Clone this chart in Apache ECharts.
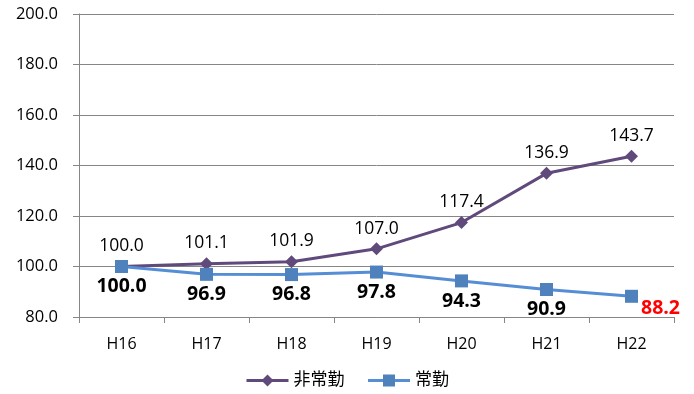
<!DOCTYPE html>
<html><head><meta charset="utf-8">
<script src="https://cdn.jsdelivr.net/npm/echarts@6/dist/echarts.min.js"></script>
<style>html,body{margin:0;padding:0;background:#fff}#c{width:694px;height:394px}</style>
</head><body><div id="c"></div>
<script>
var categories = ['H16','H17','H18','H19','H20','H21','H22'];
var partTime = [100.0,101.1,101.9,107.0,117.4,136.9,143.7];
var fullTime = [100.0,96.9,96.8,97.8,94.3,90.9,88.2];
var seriesNames = ['非常勤','常勤'];
var yMin = 80, yMax = 200, yStep = 20;

var font = '"Open Sans","Noto Sans CJK JP",sans-serif';
var chart = echarts.init(document.getElementById('c'));
chart.setOption({
  animation: false,
  grid: {left: 79, right: 20, top: 14, bottom: 77},
  legend: {
    bottom: 0, left: 'center', itemWidth: 42, itemHeight: 15, itemGap: 22,
    lineStyle: {width: 3},
    textStyle: {fontFamily: font, fontSize: 17, color: '#000'},
    data: seriesNames
  },
  xAxis: {
    type: 'category', data: categories, boundaryGap: true,
    axisLine: {lineStyle: {color: '#868686', width: 1}},
    axisTick: {show: true, length: 6, lineStyle: {color: '#868686'}},
    axisLabel: {margin: 19, fontFamily: font, fontSize: 16, color: '#000'}
  },
  yAxis: {
    type: 'value', min: yMin, max: yMax, interval: yStep,
    axisLine: {show: true, lineStyle: {color: '#868686'}},
    axisTick: {show: true, length: 6, lineStyle: {color: '#868686'}},
    splitLine: {lineStyle: {color: '#868686', width: 1}},
    axisLabel: {margin: 21, fontFamily: font, fontSize: 16.5, color: '#000',
      formatter: function(v){return v.toFixed(1);}}
  },
  series: [
    {
      name: seriesNames[0], type: 'line', data: partTime,
      symbol: 'diamond', symbolSize: 13,
      lineStyle: {color: '#604A7B', width: 3},
      itemStyle: {color: '#604A7B'},
      label: {show: true, position: 'top', distance: 5, fontFamily: font, fontSize: 17.5, color: '#000',
        formatter: function(p){return p.value.toFixed(1);}},
      z: 2
    },
    {
      name: seriesNames[1], type: 'line', data: fullTime.map(function(v, i){
        var last = i === fullTime.length - 1;
        return last ? {value: v, label: {position: 'right', offset: [0, 12], color: '#FF0000', distance: 3}} : v;
      }),
      symbol: 'rect', symbolSize: 13,
      lineStyle: {color: '#558ED5', width: 3},
      itemStyle: {color: '#4F81BD'},
      label: {show: true, position: 'bottom', distance: 4, fontFamily: font, fontSize: 19.5, fontWeight: 'bold', color: '#000',
        formatter: function(p){return p.value.toFixed(1);}},
      z: 3
    }
  ]
});
</script></body></html>
